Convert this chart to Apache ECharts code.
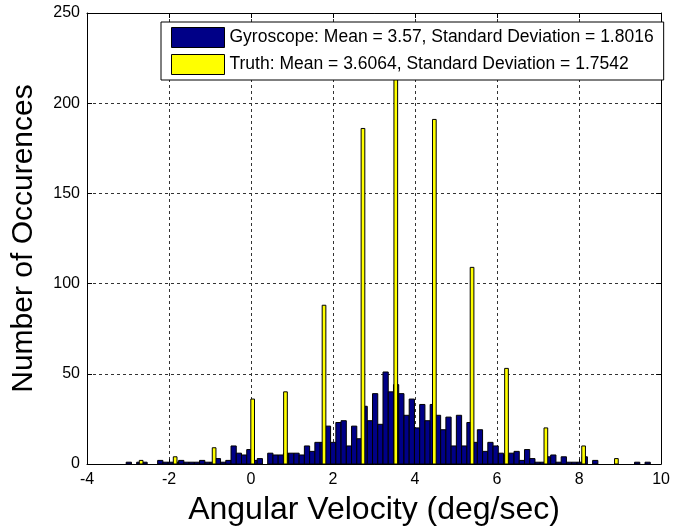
<!DOCTYPE html>
<html>
<head>
<meta charset="utf-8">
<script src="https://cdn.jsdelivr.net/npm/echarts@6/dist/echarts.min.js"></script>
<style>
html,body{margin:0;padding:0;background:#fff;}
#chart{width:673px;height:531px;}
</style>
</head>
<body>
<div id="chart"></div>
<script>
// Gyroscope histogram: 100 bins starting at gyroMin with width gyroBinWidth
const gyroMin = -3.044;
const gyroBinWidth = 0.1278;
const gyroCounts = [
  1, 0, 1, 1, 0, 0, 2, 1, 1, 1,
  2, 1, 1, 1, 2, 1, 1, 3, 1, 2,
  10, 6, 5, 8, 2, 3, 0, 6, 5, 5,
  6, 6, 6, 5, 10, 7, 12, 12, 21, 12,
  23, 24, 10, 21, 14, 32, 24, 39, 22, 51,
  40, 44, 39, 27, 36, 20, 33, 24, 33, 27,
  19, 26, 10, 27, 10, 23, 12, 19, 7, 12,
  10, 6, 5, 6, 7, 2, 8, 3, 1, 1,
  4, 5, 1, 4, 1, 1, 1, 4, 0, 2,
  0, 0, 0, 0, 0, 0, 0, 1, 0, 1
];
// Truth histogram bars
const truthCenters = [-2.68, -1.85, -0.90, 0.04, 0.84, 1.78, 2.73, 3.53, 4.47, 5.39, 6.23, 7.19, 8.11, 8.91];
const truthCounts = [2, 4, 9, 36, 40, 88, 186, 230, 191, 109, 53, 20, 10, 3];
const truthBarWidth = 0.09;

const xTicks = [-4, -2, 0, 2, 4, 6, 8, 10];
const yTicks = [0, 50, 100, 150, 200, 250];

const gyroName = 'Gyroscope: Mean = 3.57, Standard Deviation = 1.8016';
const truthName = 'Truth: Mean = 3.6064, Standard Deviation = 1.7542';

const gyroData = gyroCounts.map((c, i) => [gyroMin + gyroBinWidth * (i + 0.5), c]);
const truthData = truthCenters.map((x, i) => [x, truthCounts[i]]);

const FONT = "'Liberation Sans', Arial, sans-serif";
const GYRO_COLOR = '#000087';
const TRUTH_COLOR = '#FFFF00';

function makeRender(width, fill) {
  return function (params, api) {
    const x = api.value(0), y = api.value(1);
    if (!y) return null;
    const w = api.size([width, 0])[0];
    const top = api.coord([x, y]);
    const base = api.coord([x, 0]);
    return {
      type: 'rect',
      shape: { x: top[0] - w / 2, y: top[1], width: w, height: base[1] - top[1] },
      style: { fill: fill, stroke: '#000', lineWidth: 1 }
    };
  };
}

const chart = echarts.init(document.getElementById('chart'), null, { renderer: 'canvas' });
function axisBase() {
  return {
    type: 'value',
    axisLine: { show: true, onZero: false, lineStyle: { color: '#000', width: 1 } },
    axisTick: { show: true, inside: true, length: 5, lineStyle: { color: '#000' } }
  };
}
chart.setOption({
  animation: false,
  backgroundColor: '#fff',
  textStyle: { fontFamily: FONT },
  grid: { left: 87, right: 9, top: 13, bottom: 67, show: false },
  legend: {
    orient: 'vertical',
    left: 161, top: 22,
    backgroundColor: '#fff',
    borderColor: '#000', borderWidth: 1,
    padding: [5, 10, 5, 10],
    itemGap: 6,
    itemWidth: 53, itemHeight: 20,
    textStyle: { fontFamily: FONT, fontSize: 17.5, color: '#000' },
    data: [
      { name: gyroName, icon: 'rect', itemStyle: { color: GYRO_COLOR, borderColor: '#000', borderWidth: 1 } },
      { name: truthName, icon: 'rect', itemStyle: { color: TRUTH_COLOR, borderColor: '#000', borderWidth: 1 } }
    ],
    z: 20
  },
  xAxis: [
    Object.assign(axisBase(), {
      position: 'bottom', min: xTicks[0], max: xTicks[xTicks.length - 1], interval: 2,
      axisLabel: { color: '#000', fontSize: 16, fontFamily: FONT, margin: 8 },
      splitLine: { show: true, lineStyle: { color: '#333', type: [3, 3], width: 1 } },
      name: 'Angular Velocity (deg/sec)', nameLocation: 'middle', nameGap: 30,
      nameTextStyle: { fontSize: 32, color: '#000', fontFamily: FONT }
    }),
    Object.assign(axisBase(), {
      position: 'top', min: xTicks[0], max: xTicks[xTicks.length - 1], interval: 2,
      axisLabel: { show: false }, splitLine: { show: false }
    })
  ],
  yAxis: [
    Object.assign(axisBase(), {
      position: 'left', min: yTicks[0], max: yTicks[yTicks.length - 1], interval: 50,
      axisLabel: { color: '#000', fontSize: 16, fontFamily: FONT, margin: 7 },
      splitLine: { show: true, lineStyle: { color: '#333', type: [3, 3], width: 1 } },
      name: 'Number of Occurences', nameLocation: 'middle', nameGap: 48,
      nameTextStyle: { fontSize: 30, color: '#000', fontFamily: FONT }
    }),
    Object.assign(axisBase(), {
      position: 'right', min: yTicks[0], max: yTicks[yTicks.length - 1], interval: 50,
      axisLabel: { show: false }, splitLine: { show: false }
    })
  ],
  series: [
    {
      name: gyroName, type: 'custom', xAxisIndex: 0, yAxisIndex: 0,
      itemStyle: { color: GYRO_COLOR },
      renderItem: makeRender(gyroBinWidth, GYRO_COLOR),
      encode: { x: 0, y: 1 }, clip: true, z: 2,
      data: gyroData
    },
    {
      name: truthName, type: 'custom', xAxisIndex: 0, yAxisIndex: 0,
      itemStyle: { color: TRUTH_COLOR },
      renderItem: makeRender(truthBarWidth, TRUTH_COLOR),
      encode: { x: 0, y: 1 }, clip: true, z: 3,
      data: truthData
    }
  ]
});
</script>
</body>
</html>
